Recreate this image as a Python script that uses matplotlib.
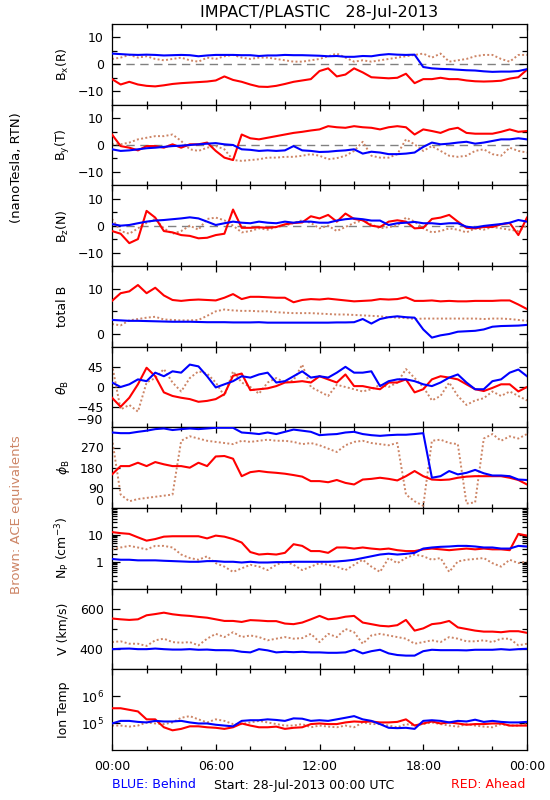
import numpy as np
import matplotlib
matplotlib.use('Agg')
import matplotlib.pyplot as plt
from matplotlib.ticker import FixedLocator, NullFormatter

plt.rcParams['font.family'] = ['DejaVu Sans']
plt.rcParams['mathtext.fontset'] = 'dejavusans'

# time grid (hours since 28-Jul-2013 00:00 UTC), 30-minute samples
hours = np.linspace(0, 24, 49)

# ---- Bx (R) [nT]
bx_blue = [4.0, 3.8, 3.6, 3.5, 3.6, 3.5, 3.3, 3.4, 3.5, 3.4, 3.0, 3.3, 3.5, 3.5, 3.5, 3.4, 3.4, 3.1, 3.3, 3.3,
           3.5, 3.4, 3.4, 3.3, 3.2, 3.0, 3.1, 2.8, 2.8, 3.1, 3.0, 3.5, 3.8, 3.6, 3.5, 3.6, -1.0, -1.5, -1.7, -1.8,
           -2.0, -2.2, -2.3, -2.6, -2.8, -2.7, -2.7, -2.5, -1.8]
bx_red = [-5.5, -7.5, -6.5, -7.5, -8.0, -8.2, -7.8, -7.3, -7.0, -6.8, -6.6, -6.4, -6.0, -4.5, -5.8, -6.5, -7.5, -8.3,
          -8.4, -8.0, -7.3, -6.5, -6.0, -5.5, -2.5, -1.5, -4.5, -3.8, -1.5, -3.0, -4.8, -5.0, -5.2, -5.0, -3.5, -7.0,
          -5.5, -5.5, -5.0, -5.5, -5.5, -6.0, -6.3, -6.4, -6.3, -6.1, -5.3, -4.8, -2.0]
bx_brown = [2.0, 2.5, 3.5, 2.5, 3.0, 2.0, 1.5, 2.0, 2.5, 1.5, 1.0, 2.5, 2.0, 3.0, 3.5, 2.5, 2.0, 2.5, 2.5, 2.0,
            1.5, 1.0, 1.0, 1.5, 2.0, 3.0, 4.0, 2.5, 1.0, 1.5, 1.0, 1.5, 2.0, 2.5, 3.0, 3.5, 4.0, 2.5, 4.0, 1.0,
            1.5, 2.0, 3.0, 3.5, 3.5, 2.0, 1.0, 3.5, 3.5]

# ---- By (T) [nT]
by_blue = [-1.6, -2.2, -2.0, -1.6, -1.2, -1.0, -0.7, -0.4, -0.25, 0.0, 0.25, 0.5, 0.7, 0.25, 0.0, -1.6, -1.8, -2.2,
           -2.0, -2.2, -2.0, -0.4, -2.0, -2.2, -2.6, -2.5, -2.2, -2.0, -1.6, -3.2, -2.5, -2.8, -3.4, -3.4, -3.2, -2.8,
           -0.7, 0.9, 0.25, 0.5, 0.9, 1.2, 0.5, 0.9, 1.5, 2.1, 2.1, 2.5, 2.1]
by_red = [3.9, -0.4, -1.0, -2.0, -0.4, -0.4, -1.0, 0.25, -1.0, 0.25, 0.25, 0.9, -2.2, -4.7, -5.6, 3.9, 2.5, 2.1,
          2.7, 3.3, 3.9, 4.5, 4.9, 5.4, 5.8, 7.0, 6.6, 6.4, 7.0, 6.6, 6.4, 5.8, 6.6, 7.0, 6.6, 3.9, 5.8, 5.2,
          4.5, 5.8, 6.4, 4.5, 4.2, 4.2, 4.2, 4.9, 5.8, 4.9, 5.2]
by_brown = [0.25, 0.25, 0.9, 2.1, 2.7, 3.3, 3.3, 3.9, 1.5, -1.6, -2.2, -1.0, -0.4, -1.6, -5.6, -5.9, -5.6, -5.3,
            -4.7, -4.7, -4.4, -4.4, -4.0, -3.4, -4.0, -5.3, -4.9, -4.0, -2.2, 1.2, -4.0, -4.7, -4.7, -3.4, 2.1,
            0.25, -2.2, -0.4, -2.2, -4.0, -4.4, -4.0, -2.2, -1.6, -3.4, -4.0, -1.0, -2.2, -2.8]

# ---- Bz (N) [nT]
bz_blue = [0.6, 0.0, 0.25, 0.9, 1.5, 1.9, 2.1, 2.4, 2.7, 3.1, 2.7, 1.5, 0.25, 0.9, 1.5, 1.1, 0.9, 1.5, 1.1, 0.9,
           1.5, 1.1, 1.5, 1.5, 1.1, 1.1, 1.9, 2.4, 2.7, 2.4, 1.9, 1.9, 0.25, 0.9, 1.1, 1.4, 0.9, 0.9, 0.6, 0.9,
           0.9, -0.4, -0.7, -0.1, 0.25, 0.6, 1.1, 2.1, 1.5]
bz_red = [-2.0, -3.0, -6.5, -5.0, 5.5, 3.0, -2.0, -2.5, -3.5, -3.8, -4.7, -4.5, -3.5, -3.0, 6.0, -0.8, -0.8, -0.6,
          -0.8, -0.5, 0.5, 1.0, 1.2, 3.5, 2.7, 4.0, 1.5, 4.5, 2.5, 2.0, 0.0, -0.5, 1.5, 2.0, 1.5, -1.0, -0.8, 2.5,
          3.0, 4.0, 1.5, -0.8, -1.0, -0.5, -0.5, 0.5, 1.0, -3.5, 3.0]
bz_brown = [2.5, -2.0, -3.0, -1.0, 1.0, 2.5, -1.0, -3.0, -2.0, 0.0, -1.5, 2.5, 3.0, 2.0, 0.0, -2.5, -2.0, -1.0,
            -1.5, -0.5, 0.0, 1.0, 2.0, 1.0, -1.0, 0.0, -2.0, -0.5, 1.0, 2.0, 0.5, -1.0, -0.5, 0.0, 3.0, 1.5, -1.0,
            -2.5, -2.0, -1.0, -1.5, -2.5, -1.0, -1.5, -0.5, -1.0, -1.5, -2.0, 0.0]

# ---- total B [nT]
bt_blue = [3.1, 3.0, 2.9, 2.9, 2.85, 2.8, 2.75, 2.7, 2.7, 2.7, 2.65, 2.6, 2.6, 2.6, 2.55, 2.55, 2.55, 2.6, 2.5,
           2.5, 2.5, 2.5, 2.5, 2.5, 2.5, 2.5, 2.55, 2.55, 2.6, 3.3, 2.3, 3.3, 3.7, 3.9, 3.7, 3.6, 1.0, -0.8, -0.3,
           0.0, 0.5, 0.6, 0.7, 1.0, 1.6, 1.75, 1.8, 1.85, 2.0]
bt_red = [7.3, 9.0, 9.4, 10.8, 9.0, 10.2, 8.5, 7.5, 7.3, 7.5, 7.6, 7.5, 7.4, 8.0, 8.8, 7.7, 8.2, 8.2, 8.1, 8.0,
          8.0, 7.0, 7.5, 7.7, 7.6, 7.8, 7.6, 7.4, 7.2, 7.3, 7.4, 7.7, 7.6, 7.7, 8.1, 7.3, 7.3, 7.4, 7.2, 7.3,
          7.2, 7.2, 7.3, 7.3, 7.3, 7.4, 7.4, 6.5, 5.5]
bt_brown = [2.2, 1.9, 3.0, 3.3, 3.6, 3.8, 3.2, 3.1, 3.0, 3.0, 3.1, 4.0, 5.0, 5.4, 5.2, 5.1, 5.1, 5.0, 5.0, 4.8,
            4.7, 4.6, 4.6, 4.6, 4.5, 4.4, 4.3, 4.3, 4.2, 4.1, 4.0, 3.9, 3.7, 3.6, 3.5, 3.3, 3.4, 3.4, 3.4, 3.4,
            3.4, 3.4, 3.4, 3.3, 3.4, 3.4, 3.3, 3.1, 2.9]

# ---- theta_B [deg]
th_blue = [10, 0, 6, 17, 13, 32, 24, 35, 32, 50, 46, 24, -1, 6, 13, 24, 21, 28, 32, 10, 13, 24, 35, 21, 24, 21,
           32, 45, 32, 32, 35, 2, 13, 17, 17, 13, 6, 2, 10, 21, 28, 10, -5, -5, 13, 17, 32, 39, 24]
th_red = [-24, -44, -24, 6, 43, 24, -12, -20, -24, -27, -33, -31, -27, -16, 25, 30, -7, -5, -3, 2, 10, 11, 13, 10,
          24, 17, 10, 28, 2, 2, -2, -5, 10, 10, 17, -12, -5, 17, 24, 21, 17, 6, -5, -9, -2, 6, 6, -10, 0]
th_brown = [50, -50, -40, -55, 10, 20, 40, 10, -10, 20, 35, 30, 10, -20, 35, 10, 0, -15, 10, 20, 10, 15, 50, 0,
            -10, -20, 5, 0, -5, -10, -5, 5, 0, 10, 40, 20, 0, -30, -20, 10, -20, -40, -30, -25, -10, -20, -10,
            -20, -30]

# ---- phi_B [deg]
ph_blue = [337, 334, 334, 340, 345, 352, 355, 348, 352, 355, 352, 355, 358, 358, 358, 337, 334, 330, 337, 330,
           340, 350, 345, 340, 325, 328, 330, 337, 340, 330, 325, 322, 325, 327, 327, 330, 334, 135, 142, 165,
           150, 157, 170, 155, 145, 145, 142, 127, 125]
ph_red = [150, 187, 187, 202, 187, 205, 195, 187, 187, 180, 202, 187, 230, 232, 220, 142, 160, 165, 160, 157,
          153, 147, 140, 120, 120, 115, 125, 112, 105, 127, 130, 135, 130, 123, 142, 165, 142, 127, 125, 127,
          135, 140, 142, 142, 142, 142, 135, 125, 105]
ph_brown = [310, 60, 30, 40, 45, 50, 55, 60, 300, 320, 310, 300, 295, 290, 285, 300, 295, 300, 305, 300, 300,
            295, 285, 290, 280, 265, 250, 280, 295, 300, 290, 285, 280, 290, 60, 30, 10, 300, 305, 290, 285, 20,
            25, 310, 330, 300, 320, 310, 330]

# ---- Np [cm^-3]
np_blue = [1.27, 1.19, 1.19, 1.13, 1.13, 1.13, 1.09, 1.06, 1.03, 1.0, 1.0, 1.06, 1.06, 1.0, 1.0, 0.94, 1.0, 0.94,
           0.94, 0.97, 0.97, 1.0, 1.0, 1.0, 1.0, 1.0, 1.03, 1.09, 1.19, 1.38, 1.6, 1.86, 2.0, 1.86, 1.97, 2.15,
           3.1, 3.4, 3.6, 3.7, 3.9, 3.9, 3.7, 3.4, 3.4, 3.1, 3.1, 3.9, 3.7]
np_red = [12.7, 11.6, 10.9, 8.1, 6.1, 7.0, 8.6, 8.9, 8.9, 8.9, 8.9, 7.4, 9.4, 8.6, 7.0, 5.2, 2.3, 1.86, 1.97, 1.86,
          2.15, 4.5, 3.9, 2.5, 2.5, 2.15, 3.4, 3.4, 3.1, 3.4, 3.1, 2.9, 3.1, 2.7, 2.5, 2.5, 2.9, 3.1, 2.9, 2.7,
          2.9, 3.1, 2.9, 3.1, 2.9, 2.9, 2.7, 10.9, 9.4]
np_brown = [2.9, 3.4, 3.9, 3.4, 2.9, 3.9, 3.9, 3.4, 1.86, 1.38, 1.19, 1.6, 0.89, 0.66, 0.42, 0.57, 0.77, 0.66,
            0.49, 0.77, 1.03, 0.77, 0.49, 0.66, 0.89, 0.77, 0.66, 0.49, 0.77, 1.19, 0.66, 0.42, 1.38, 0.89, 1.38,
            1.86, 1.6, 1.19, 1.38, 0.42, 1.03, 1.19, 1.27, 1.38, 0.89, 0.66, 1.19, 0.89, 1.03]

# ---- V [km/s]
v_blue = [400, 402, 403, 400, 400, 403, 400, 398, 398, 400, 397, 398, 395, 395, 394, 387, 384, 400, 394, 384,
          387, 385, 387, 384, 384, 382, 382, 384, 397, 379, 390, 397, 379, 371, 368, 368, 390, 397, 395, 395,
          395, 394, 397, 397, 397, 400, 397, 400, 402]
v_red = [552, 548, 545, 548, 568, 574, 581, 573, 568, 565, 560, 556, 548, 540, 540, 535, 544, 542, 539, 539,
         527, 524, 532, 548, 565, 548, 552, 561, 565, 532, 524, 516, 513, 519, 545, 492, 503, 524, 529, 540,
         508, 500, 492, 487, 487, 484, 489, 489, 481]
v_brown = [435, 439, 427, 427, 416, 444, 452, 435, 432, 435, 419, 452, 476, 460, 484, 460, 468, 460, 444, 452,
           460, 452, 455, 476, 435, 476, 460, 500, 484, 427, 468, 476, 468, 460, 452, 427, 435, 444, 435, 460,
           452, 439, 439, 444, 435, 452, 452, 419, 427]

# ---- Ion temperature [kK]
t_blue_kK = [97, 121, 121, 111, 106, 121, 115, 115, 121, 106, 97, 97, 87, 81, 76, 121, 128, 128, 138, 131, 121,
             150, 146, 121, 128, 121, 138, 158, 182, 138, 121, 92, 67, 65, 67, 61, 121, 128, 121, 106, 121, 115,
             134, 111, 121, 111, 106, 106, 111]
t_red_kK = [357, 357, 312, 272, 138, 138, 70, 54, 61, 76, 76, 70, 67, 61, 70, 97, 81, 70, 70, 74, 61, 67, 70,
            92, 97, 92, 92, 106, 115, 111, 115, 106, 106, 111, 138, 81, 97, 115, 97, 106, 97, 87, 92, 92, 97, 97,
            81, 81, 81]
t_brown_kK = [81, 81, 74, 81, 106, 97, 92, 106, 158, 182, 138, 106, 138, 121, 92, 92, 106, 121, 106, 92, 81, 81,
              92, 70, 81, 74, 70, 81, 70, 106, 92, 92, 81, 70, 92, 81, 92, 106, 92, 81, 74, 92, 81, 74, 70, 92,
              81, 81, 92]

x_ticks = [0, 6, 12, 18, 24]
x_ticklabels = ['00:00', '06:00', '12:00', '18:00', '00:00']

RED = '#ff0000'
BLUE = '#0000ff'
BROWN = '#cd8566'
M = '\u2212'

panels = [
    dict(label=r'B$_{\rm x}$(R)', b=bx_brown, r=bx_red, u=bx_blue, ylim=(-15, 15), log=False,
         ticks=[-10, 0, 10], tl=[M + '10', '0', '10'], minor=[-5, 5], zero=True),
    dict(label=r'B$_{\rm y}$(T)', b=by_brown, r=by_red, u=by_blue, ylim=(-15, 15), log=False,
         ticks=[-10, 0, 10], tl=[M + '10', '0', '10'], minor=[-5, 5], zero=True),
    dict(label=r'B$_{\rm z}$(N)', b=bz_brown, r=bz_red, u=bz_blue, ylim=(-15, 15), log=False,
         ticks=[-10, 0, 10], tl=[M + '10', '0', '10'], minor=[-5, 5], zero=True),
    dict(label='total B', b=bt_brown, r=bt_red, u=bt_blue, ylim=(-2.8, 15), log=False,
         ticks=[0, 10], tl=['0', '10'], minor=[5], zero=False),
    dict(label=r'$\theta_{\rm B}$', b=th_brown, r=th_red, u=th_blue, ylim=(-90, 90), log=False,
         ticks=[-45, 0, 45], tl=[M + '45', '0', '45'], minor=[], zero=False, edge=(-90, M + '90')),
    dict(label=r'$\phi_{\rm B}$', b=ph_brown, r=ph_red, u=ph_blue, ylim=(0, 360), log=False,
         ticks=[90, 180, 270], tl=['90', '180', '270'], minor=[], zero=False, edge=(0, '0')),
    dict(label=r'N$_{\rm P}$ (cm$^{-3}$)', b=np_brown, r=np_red, u=np_blue, ylim=(0.1, 100), log=True,
         ticks=[1, 10], tl=['1', '10'], minor=None, zero=False),
    dict(label='V (km/s)', b=v_brown, r=v_red, u=v_blue, ylim=(300, 700), log=False,
         ticks=[400, 600], tl=['400', '600'], minor=[500], zero=False),
    dict(label='Ion Temp', b=np.array(t_brown_kK) * 1e3, r=np.array(t_red_kK) * 1e3,
         u=np.array(t_blue_kK) * 1e3, ylim=(1e4, 1e7), log=True,
         ticks=[1e5, 1e6], tl=[r'10$^{5}$', r'10$^{6}$'], minor=None, zero=False),
]

fig = plt.figure(figsize=(5.5, 8), dpi=100)
L = 112 / 550
W = 415 / 550
TOP = 1 - 24 / 800
H = (726 / 800) / 9
FS = 9

for k, p in enumerate(panels):
    ax = fig.add_axes([L, TOP - (k + 1) * H, W, H])
    if p['log']:
        ax.set_yscale('log')
    if p['zero']:
        ax.axhline(0, color='#808080', lw=1.0, dashes=(6, 4), zorder=1)
    ax.plot(hours, p['b'], color=BROWN, lw=1.4, ls=(0, (1, 1.2)), zorder=2)
    ax.plot(hours, p['r'], color=RED, lw=1.5, zorder=3)
    ax.plot(hours, p['u'], color=BLUE, lw=1.5, zorder=4)
    ax.set_xlim(0, 24)
    ax.set_ylim(*p['ylim'])
    ax.set_xticks(x_ticks)
    ax.xaxis.set_minor_locator(FixedLocator([2, 4, 8, 10, 14, 16, 20, 22]))
    ax.set_yticks(p['ticks'])
    ax.set_yticklabels(p['tl'])
    if p['minor'] is not None:
        ax.yaxis.set_minor_locator(FixedLocator(p['minor']))
    ax.yaxis.set_minor_formatter(NullFormatter())
    ax.tick_params(axis='both', which='both', direction='in', top=True, right=True,
                   labelsize=FS, width=0.9, colors='black')
    ax.tick_params(axis='y', which='major', length=6, pad=6)
    ax.tick_params(axis='y', which='minor', length=3.5)
    ax.tick_params(axis='x', which='major', length=4.5, pad=7)
    ax.tick_params(axis='x', which='minor', length=3)
    if k < len(panels) - 1:
        ax.set_xticklabels([])
    else:
        ax.set_xticklabels(x_ticklabels)
    if 'edge' in p:
        yv, txt = p['edge']
        ax.text(-0.022, yv, txt, transform=ax.get_yaxis_transform(), ha='right', va='bottom',
                fontsize=FS)
    for s in ax.spines.values():
        s.set_linewidth(0.9)
    yc = 1 - (24 + 80.67 * (k + 0.5)) / 800
    fig.text(63 / 550, yc, p['label'], rotation=90, ha='center', va='center', fontsize=FS)

fig.text(0.581, 1 - 12.5 / 800, 'IMPACT/PLASTIC   28-Jul-2013', ha='center', va='center', fontsize=11.5)
fig.text(17 / 550, 1 - 168 / 800, '(nanoTesla, RTN)', rotation=90, ha='center', va='center', fontsize=9.5)
fig.text(17 / 550, 1 - 515 / 800, 'Brown: ACE equivalents', rotation=90, ha='center', va='center',
         fontsize=9.5, color=BROWN)
fig.text(112 / 550, 1 - 785 / 800, 'BLUE: Behind', ha='left', va='center', fontsize=FS, color=BLUE)
fig.text(214 / 550, 1 - 785 / 800, 'Start: 28-Jul-2013 00:00 UTC', ha='left', va='center', fontsize=FS)
fig.text(525 / 550, 1 - 785 / 800, 'RED: Ahead', ha='right', va='center', fontsize=FS, color=RED)

fig.savefig('out.png', dpi=100, facecolor='white')
